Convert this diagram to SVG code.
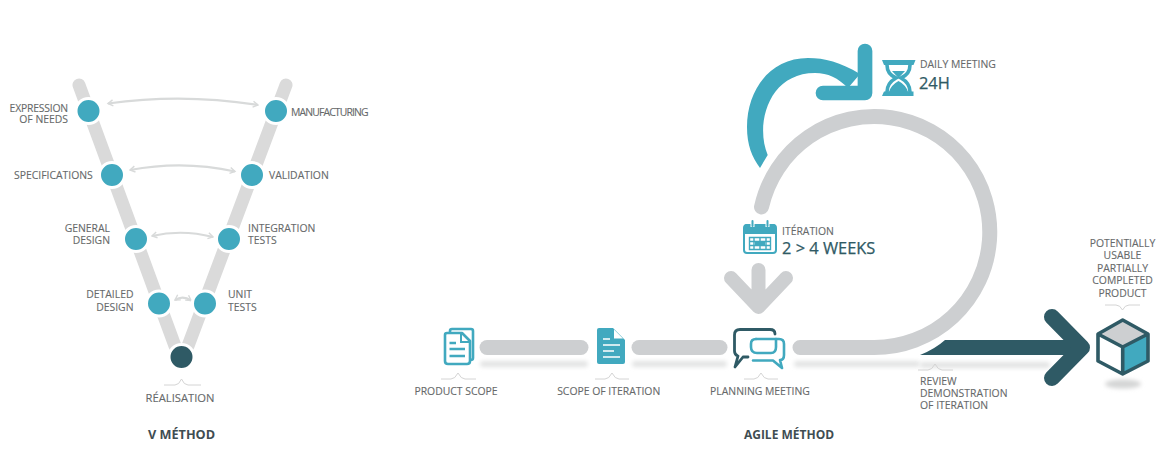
<svg xmlns="http://www.w3.org/2000/svg" width="1170" height="474" viewBox="0 0 1170 474">
<defs>
<filter id="blur2" x="-20%" y="-200%" width="140%" height="500%"><feGaussianBlur stdDeviation="2"/></filter>
<marker id="ah" viewBox="0 0 8 8" refX="6.5" refY="4" markerWidth="8" markerHeight="8" orient="auto-start-reverse" markerUnits="userSpaceOnUse"><path d="M1.5 1 L6.5 4 L1.5 7" fill="none" stroke="#d8dada" stroke-width="1.4"/></marker>
</defs>
<style>
text{font-family:"Open Sans","Noto Sans","Liberation Sans",sans-serif;font-size:10.4px;fill:#66696a;stroke:#66696a;stroke-width:.12}
.r{text-anchor:end}.m{text-anchor:middle}
.t{font-weight:700;font-size:12px;fill:#3f4d52;stroke:none}
.big{fill:#2f5a65;stroke:#2f5a65;stroke-width:.25;font-size:16.4px}
.lane{fill:none;stroke:#dadada;stroke-width:13;stroke-linecap:round}
.dot{fill:#41a9bf;stroke:#fff;stroke-width:3}
.link{fill:none;stroke:#d8dada;stroke-width:2.200;marker-start:url(#ah);marker-end:url(#ah)}
.caret{fill:none;stroke:#d4d4d4;stroke-width:1}
.bar{fill:none;stroke:#cdcfd1;stroke-width:15;stroke-linecap:round}
.shadow{fill:#e2e3e3;filter:url(#blur2)}
.ic{fill:none;stroke:#41a9bf;stroke-width:2.6;stroke-linejoin:round;stroke-linecap:round}
.wl{fill:none;stroke:#fff;stroke-width:1.6}
</style>
<rect width="1170" height="474" fill="#fff"/>
<g id="connectors">
<path class="lane" d="M79 85 L175 346"/>
<path class="lane" d="M286 85 L188 346"/>
<path class="link" d="M108 103.500 Q183 93 258 105"/>
<path class="link" d="M130 170 Q183 160 235 171.500"/>
<path class="link" d="M152 236 Q182 229 213 237"/>
<path class="link" d="M175 300 Q183 295 191 300.500"/>
<rect class="shadow" x="480" y="361" width="108" height="6" rx="3"/>
<rect class="shadow" x="632" y="361" width="95" height="6" rx="3"/>
<rect class="shadow" x="794" y="361" width="126" height="6" rx="3"/>
<rect class="shadow" x="920" y="362" width="130" height="6" rx="3"/>
<path class="bar" d="M487 347.500 H581"/>
<path class="bar" d="M639 347.500 H720"/>
<path class="bar" d="M761.500 207 A115.500 115.500 0 1 1 874 347.500 H800"/>
<path d="M760 168 L767.700 155 C755 125 768 73 815 73 C828 73 838 78 848 88 L860 74 C840 62 825 58 808 58 C770 58 747 90 747 127 C747 145 752 157 760 168 Z" fill="#41a9bf"/>
<path d="M865 51 V93 H823" fill="none" stroke="#41a9bf" stroke-width="14.700" stroke-linecap="round" stroke-linejoin="round"/>
<path d="M758.500 270 V306 M731 278 L758.500 307 L786 278" fill="none" stroke="#cdcfd1" stroke-width="14" stroke-linecap="round" stroke-linejoin="round"/>
<path d="M920 355 Q935 349 945 340 H1075 V355 Z" fill="#2f5a65"/>
<path d="M1052 317 L1082 347.500 L1052 378" fill="none" stroke="#2f5a65" stroke-width="16" stroke-linecap="round" stroke-linejoin="round"/>
</g>
<g id="expression"><circle class="dot" cx="88.500" cy="111" r="12.500"/><text class="r" x="68" y="111.500" letter-spacing="-.2">EXPRESSION</text><text class="r" x="68" y="123">OF NEEDS</text></g>
<g id="manufacturing"><circle class="dot" cx="276" cy="111" r="12.500"/><text x="291" y="115.500" letter-spacing="-.85">MANUFACTURING</text></g>
<g id="specifications"><circle class="dot" cx="112" cy="175" r="12.500"/><text x="14" y="179">SPECIFICATIONS</text></g>
<g id="validation"><circle class="dot" cx="252" cy="175" r="12.500"/><text x="269" y="179">VALIDATION</text></g>
<g id="general-design"><circle class="dot" cx="136" cy="239" r="12.500"/><text class="r" x="110" y="232">GENERAL</text><text class="r" x="110" y="244">DESIGN</text></g>
<g id="integration-tests"><circle class="dot" cx="229" cy="239" r="12.500"/><text x="248" y="232">INTEGRATION</text><text x="248" y="244">TESTS</text></g>
<g id="detailed-design"><circle class="dot" cx="159" cy="303.500" r="12.500"/><text class="r" x="133.500" y="298">DETAILED</text><text class="r" x="133.500" y="311">DESIGN</text></g>
<g id="unit-tests"><circle class="dot" cx="205" cy="303.500" r="12.500"/><text x="228" y="298">UNIT</text><text x="228" y="311">TESTS</text></g>
<g id="realisation"><circle cx="181.500" cy="357" r="12.500" fill="#2f5a65" stroke="#fff" stroke-width="3"/><path class="caret" d="M164 385 H175 Q179 385 181.500 379 Q184 385 188 385 H201"/><text class="m" x="180" y="402" style="font-size:11.2px">RÉALISATION</text></g>
<text class="t m" x="181.500" y="439" style="font-size:12.700px">V MÉTHOD</text>
<g id="product-scope">
<path class="ic" d="M450 332 V331 Q450 329 452 329 H471 Q473 329 473 331 V358 Q473 360 470.500 360"/>
<path d="M447 333 H462 L470 341 V361 Q470 364 467 364 H448 Q445 364 445 361 V335 Q445 333 447 333 Z" fill="#fff" stroke="#41a9bf" stroke-width="2.600" stroke-linejoin="round"/>
<path d="M461 333 V342 H470" fill="none" stroke="#41a9bf" stroke-width="2"/>
<path d="M449.500 343 H456 M449.500 349 H465 M449.500 356 H465" fill="none" stroke="#41a9bf" stroke-width="2.400"/>
<path class="caret" d="M441 379 H451 Q455 379 458 373 Q461 379 465 379 H476"/>
<text class="m" x="456" y="395">PRODUCT SCOPE</text></g>
<g id="scope-of-iteration">
<path d="M599 328 H613 L625 340 V362 Q625 364 623 364 H599 Q597 364 597 362 V330 Q597 328 599 328 Z" fill="#41a9bf"/>
<path d="M614 329.500 V338.500 H623 Z" fill="#fff"/>
<path class="wl" d="M603 339 H610 M603 345 H620 M603 351 H614 M603 357 H620"/>
<path class="caret" d="M595 379 H605 Q609 379 612 373 Q615 379 619 379 H629"/>
<text class="m" x="608.700" y="395">SCOPE OF ITERATION</text></g>
<g id="planning-meeting">
<path d="M748 357 H743 L735 367 L738 356 Q734.500 355 734.500 351 V335 Q734.500 329.500 740 329.500 H770 Q775 329.500 775 334" fill="none" stroke="#2f5a65" stroke-width="2.800" stroke-linejoin="round" stroke-linecap="round"/>
<path d="M756 339 H779 Q784 339 784 344 V355 Q784 360 780 360 L782 368 L773 360.500 H753" fill="none" stroke="#41a9bf" stroke-width="2.600" stroke-linejoin="round" stroke-linecap="round"/>
<path d="M756 339 Q751 339 751 344 V347 Q751 353 757 353 H771 Q776 353 776 347 V339" fill="none" stroke="#41a9bf" stroke-width="2.600" stroke-linecap="round"/>
<path class="caret" d="M744 379 H754 Q758 379 761 373 Q764 379 768 379 H778"/>
<text class="m" x="760" y="395">PLANNING MEETING</text></g>
<g id="daily-meeting">
<path d="M882 60 H915.500 L913.500 65 H884 Z M882 96 H913.500 V91.500 H884 Z" fill="#41a9bf"/>
<path d="M887 65 Q887 74 896 78 Q887 83 887 92 M910 65 Q910 74 901 78 Q910 83 910 92" fill="none" stroke="#41a9bf" stroke-width="3.600"/>
<path d="M892 71 H905 L898.500 78 Z M889 92 Q891 85 898.500 81 Q906 85 908 92 Z" fill="#41a9bf"/>
<text x="920" y="67.500">DAILY MEETING</text><text class="big" x="919" y="88.500">24H</text></g>
<g id="iteration">
<path d="M747 225 H773 Q776 225 776 228 V250 Q776 253 773 253 H747 Q744 253 744 250 V228 Q744 225 747 225 Z" fill="#fff" stroke="#41a9bf" stroke-width="2"/>
<path d="M747 224 H773 Q776 224 776 227 V234 H744 V227 Q744 224 747 224 Z" fill="#41a9bf"/>
<path d="M752.500 220 V227 M767.500 220 V227" stroke="#fff" stroke-width="4"/>
<path d="M752.500 221 V226 M767.500 221 V226" stroke="#41a9bf" stroke-width="2" stroke-linecap="round"/>
<path d="M749.500 237.500 H770.500 V249.500 H749.500 Z M749.500 241.500 H770.500 M749.500 245.500 H770.500 M754 237.500 V249.500 M760 237.500 V249.500 M766 237.500 V249.500" fill="none" stroke="#41a9bf" stroke-width="1.400"/>
<path d="M755 242 H765 V245 H755 Z" fill="#41a9bf"/>
<text x="782" y="235">ITÉRATION</text><text class="big" x="782" y="253.500">2 &gt; 4 WEEKS</text></g>
<g id="review"><path class="caret" d="M918 370 H928 Q932 370 935 364 Q938 370 942 370 H953"/><text x="920" y="384.500">REVIEW</text><text x="920" y="397">DEMONSTRATION</text><text x="920" y="409">OF ITERATION</text></g>
<g id="product">
<text class="m" x="1122.500" y="247">POTENTIALLY</text><text class="m" x="1122.500" y="259">USABLE</text><text class="m" x="1122.500" y="271.500">PARTIALLY</text><text class="m" x="1122.500" y="284">COMPLETED</text><text class="m" x="1122.500" y="296.500">PRODUCT</text>
<path class="caret" d="M1105 305 H1116 Q1120 305 1122.500 310 Q1125 305 1129 305 H1140"/>
<ellipse cx="1123" cy="384" rx="18" ry="4.500" fill="#d4d5d5" filter="url(#blur2)"/>
<path d="M1098 334 L1122.700 347 V374 L1098 361 Z" fill="#fff"/>
<path d="M1148 334 L1122.700 347 V374 L1148 361 Z" fill="#41a9bf"/>
<path d="M1098 334 L1122.700 320 L1148 334 L1122.700 347 Z" fill="#cdcfd1"/>
<path d="M1098 334 L1122.700 320 L1148 334 V361 L1122.700 374 L1098 361 Z M1098 334 L1122.700 347 L1148 334 M1122.700 347 V374" fill="none" stroke="#2f5a65" stroke-width="3.600" stroke-linejoin="round"/>
</g>
<text class="t m" x="789" y="439">AGILE MÉTHOD</text>
</svg>
